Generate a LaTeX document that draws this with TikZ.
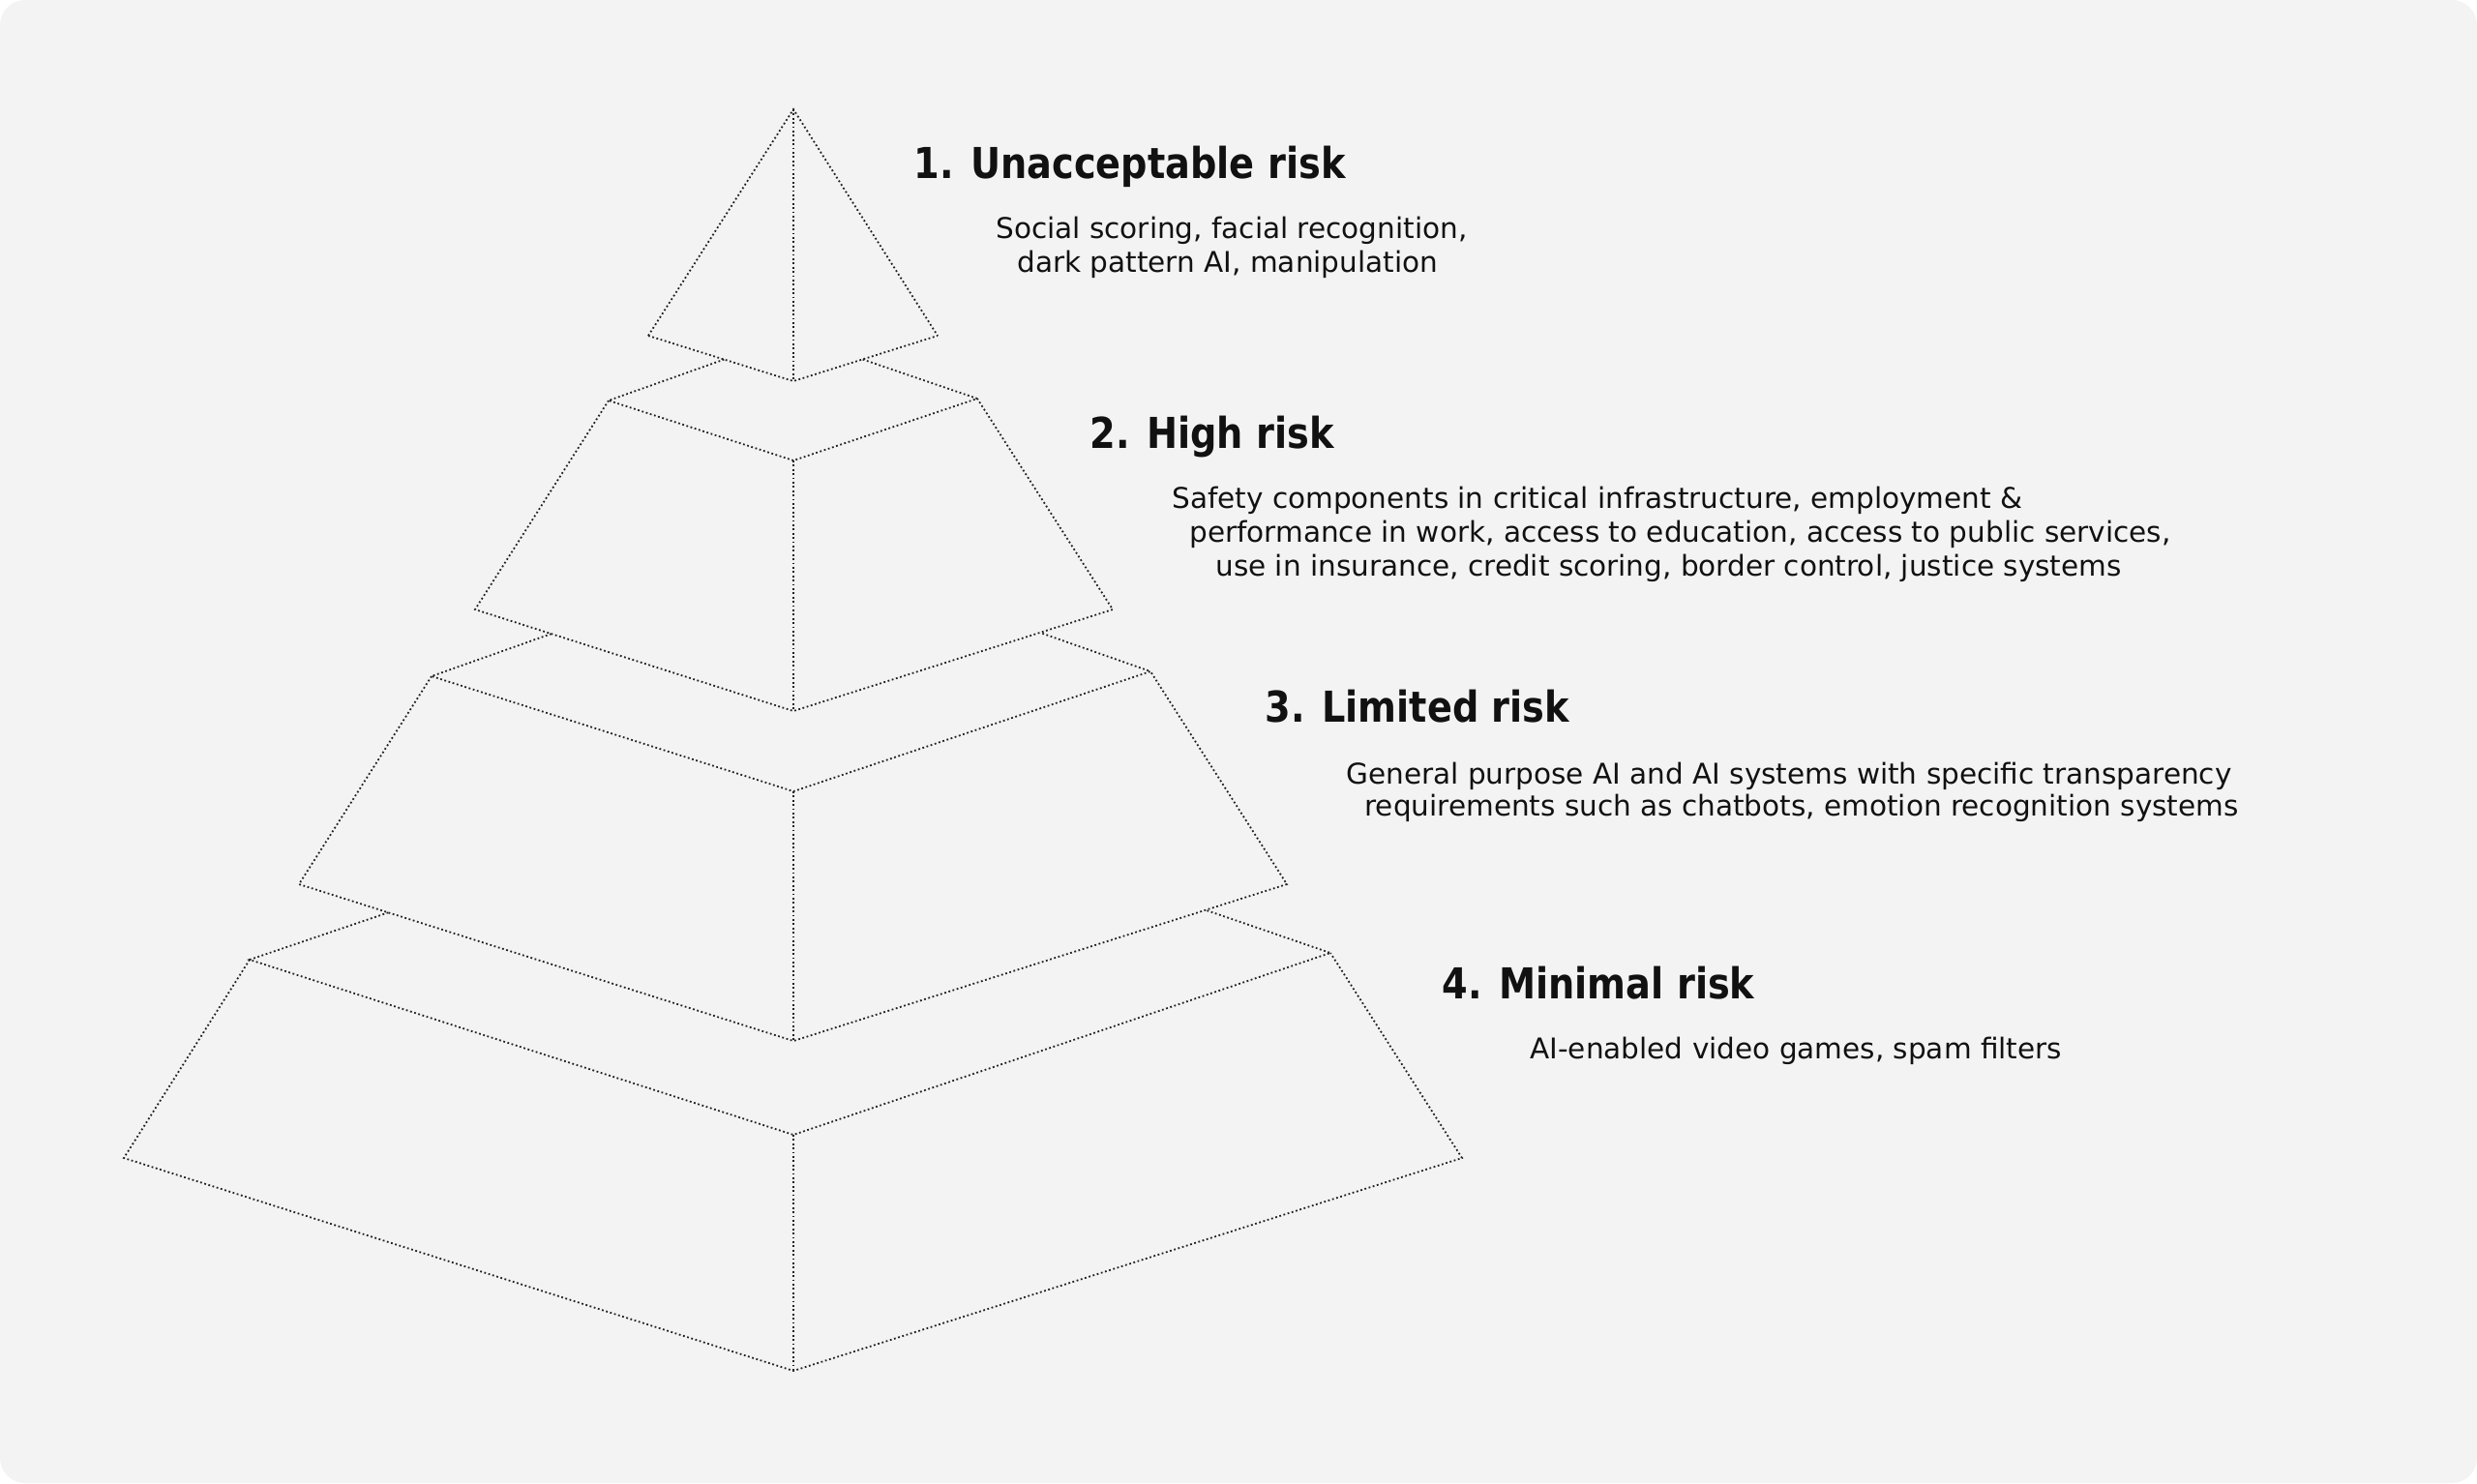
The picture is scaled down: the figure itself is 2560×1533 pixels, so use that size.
\documentclass[tikz,border=0pt]{standalone}
\usepackage{fontspec}
\setmainfont{DejaVu Sans}
\newfontfamily\headfont[FakeStretch=0.87]{DejaVu Sans Bold}
\definecolor{bgpanel}{HTML}{F3F3F3}
\definecolor{inkline}{HTML}{222222}
\definecolor{inktext}{HTML}{111111}
\begin{document}
\begin{tikzpicture}[x=0.5pt,y=-0.5pt,
  edge/.style={draw=inkline, line width=0.9pt, dash pattern=on 0.9pt off 1.3pt},
  head/.style={anchor=base west, inner sep=0pt, text=inktext, font=\headfont\fontsize{22}{26}\selectfont},
  desc/.style={anchor=base west, inner sep=0pt, text=inktext, font=\fontsize{14.75}{18}\selectfont}]
\useasboundingbox (0,0) rectangle (2560,1533);
\fill[white] (0,0) rectangle (2560,1533);
\fill[bgpanel, rounded corners=13pt] (0,0) rectangle (2560,1533);

% ---- tier 1 ----
\coordinate (t1a) at (820,113);
\coordinate (t1bl) at (670,347);
\coordinate (t1bc) at (820,394);
\coordinate (t1br) at (969,347);
% ---- tier 2 ----
\coordinate (t2tl) at (629,414);
\coordinate (t2tf) at (820,476);
\coordinate (t2tr) at (1010,412);
\coordinate (t2hl) at (747,372);
\coordinate (t2hr) at (893,372);
\coordinate (t2bl) at (491,630);
\coordinate (t2bc) at (820,735);
\coordinate (t2br) at (1150,630);
% ---- tier 3 ----
\coordinate (t3tl) at (446,699);
\coordinate (t3tf) at (820,818);
\coordinate (t3tr) at (1189,694);
\coordinate (t3hl) at (570,655);
\coordinate (t3hr) at (1078,655);
\coordinate (t3bl) at (309,914);
\coordinate (t3bc) at (820,1076);
\coordinate (t3br) at (1330,914);
% ---- tier 4 ----
\coordinate (t4tl) at (258,992);
\coordinate (t4tf) at (820,1173);
\coordinate (t4tr) at (1375,985);
\coordinate (t4hl) at (399,944);
\coordinate (t4hr) at (1247,941);
\coordinate (t4bl) at (128,1197);
\coordinate (t4bc) at (820,1417);
\coordinate (t4br) at (1511,1197);

% junctions where back edges disappear behind the tier above
\coordinate (t2jl) at (intersection of t2tl--t2hl and t1bl--t1bc);
\coordinate (t2jr) at (intersection of t2tr--t2hr and t1br--t1bc);
\coordinate (t3jl) at (intersection of t3tl--t3hl and t2bl--t2bc);
\coordinate (t3jr) at (intersection of t3tr--t3hr and t2br--t2bc);
\coordinate (t4jl) at (intersection of t4tl--t4hl and t3bl--t3bc);
\coordinate (t4jr) at (intersection of t4tr--t4hr and t3br--t3bc);

% tier 1
\draw[edge] (t1bl) -- (t1a) -- (t1br);
\draw[edge] (t1bl) -- (t1bc) -- (t1br);
\draw[edge] (t1a) -- (t1bc);
% tiers 2-4
\foreach \t in {t2,t3,t4}{
  \draw[edge] (\t jl) -- (\t tl) -- (\t tf) -- (\t tr) -- (\t jr);
  \draw[edge] (\t tl) -- (\t bl) -- (\t bc) -- (\t br) -- (\t tr);
  \draw[edge] (\t tf) -- (\t bc);
}

% labels
\node[head] (h1) at (944,184) {1. Unacceptable risk};
\node[desc] (d1a) at (1029,246) {Social scoring, facial recognition,};
\node[desc] (d1b) at (1051,281) {dark pattern AI, manipulation};

\node[head] (h2) at (1126,463) {2. High risk};
\node[desc] (d2a) at (1211,525) {Safety components in critical infrastructure, employment \&};
\node[desc] (d2b) at (1229,560) {performance in work, access to education, access to public services,};
\node[desc] (d2c) at (1256,595) {use in insurance, credit scoring, border control, justice systems};

\node[head] (h3) at (1307,746) {3. Limited risk};
\node[desc] (d3a) at (1391,810) {General purpose AI and AI systems with specific transparency};
\node[desc] (d3b) at (1410,843) {requirements such as chatbots, emotion recognition systems};

\node[head] (h4) at (1490,1032) {4. Minimal risk};
\node[desc] (d4) at (1581,1094) {AI-enabled video games, spam filters};
\end{tikzpicture}
\end{document}
